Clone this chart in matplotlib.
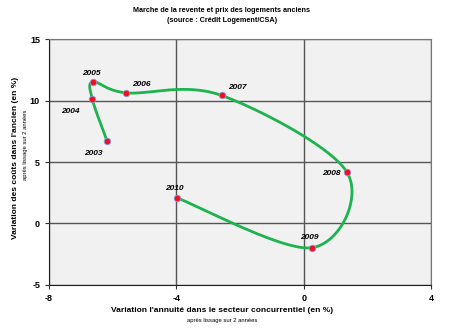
import numpy as np
import matplotlib
matplotlib.use('Agg')
import matplotlib.pyplot as plt

# Data
years = ['2003', '2004', '2005', '2006', '2007', '2008', '2009', '2010']
annuite = [-6.18, -6.64, -6.62, -5.58, -2.58, 1.36, 0.26, -3.97]
couts = [6.73, 10.1, 11.53, 10.63, 10.42, 4.16, -1.97, 2.07]

# label offsets (points) for each year
offsets = [(-10, -9), (-16, -9), (-1, 6), (11, 6), (11, 6), (-11, -1), (-2, 7), (-2, 7)]

xs_scale, ys_scale = 31.8, 12.3   # pixels per unit, used for Excel-like smoothing


def smooth(x, y, n=40):
    # Bezier smoothing like Excel (control points at P1 + (P2-P0)/6), done in pixel space
    p = np.column_stack([np.array(x) * xs_scale, np.array(y) * ys_scale])
    pts = []
    for i in range(len(p) - 1):
        p0 = p[i - 1] if i > 0 else p[i]
        p1, p2 = p[i], p[i + 1]
        p3 = p[i + 2] if i + 2 < len(p) else p[i + 1]
        c1 = p1 + (p2 - p0) / 6
        c2 = p2 - (p3 - p1) / 6
        t = np.linspace(0, 1, n)[:, None]
        seg = (1 - t) ** 3 * p1 + 3 * (1 - t) ** 2 * t * c1 + 3 * (1 - t) * t ** 2 * c2 + t ** 3 * p2
        pts.append(seg)
    pts = np.vstack(pts)
    return pts[:, 0] / xs_scale, pts[:, 1] / ys_scale


plt.rcParams['font.family'] = ['Liberation Sans Narrow', 'Liberation Sans', 'DejaVu Sans']
plt.rcParams['axes.unicode_minus'] = False

fig = plt.figure(figsize=(4.5, 3.29), dpi=100)
ax = fig.add_axes([0.109, 0.134, 0.849, 0.747])
ax.set_facecolor('#f1f1f1')

sx, sy = smooth(annuite, couts)
ax.plot(sx, sy, color='#1db34e', lw=2, zorder=3)
ax.scatter(annuite, couts, s=22, color='#ee1122', edgecolors='#8899dd', linewidths=0.6, zorder=4)

for yr, xv, yv, off in zip(years, annuite, couts, offsets):
    ax.annotate(yr, (xv, yv), xytext=off, textcoords='offset points', ha='center', va='center',
                fontsize=6, fontstyle='italic', fontweight='bold')

ax.set_xlim(-8, 4)
ax.set_ylim(-5, 15)
ax.set_xticks([-8, -4, 0, 4])
ax.set_yticks([-5, 0, 5, 10, 15])
ax.grid(True, color='#555555', lw=1)
ax.set_axisbelow(True)
ax.tick_params(labelsize=6.5, length=3, width=0.8, color='#333333')
for lab in ax.get_xticklabels() + ax.get_yticklabels():
    lab.set_fontweight('bold')
ax.spines['top'].set_color('#777777')
ax.spines['right'].set_color('#777777')
ax.spines['left'].set_color('#222222')
ax.spines['bottom'].set_color('#222222')

fig.text(0.493, 0.968, 'Marche de la revente et prix des logements anciens', ha='center', va='center',
         fontsize=5.2, fontweight='bold')
fig.text(0.493, 0.937, '(source : Crédit Logement/CSA)', ha='center', va='center',
         fontsize=5.2, fontweight='bold')

fig.text(0.493, 0.055, "Variation l'annuité dans le secteur concurrentiel (en %)", ha='center', va='center',
         fontsize=6, fontweight='bold')
fig.text(0.493, 0.025, 'après lissage sur 2 années', ha='center', va='center', fontsize=4.2)

fig.text(0.035, 0.52, "Variation des coûts dans l'ancien (en %)", rotation=90, ha='center', va='center',
         fontsize=6, fontweight='bold')
fig.text(0.056, 0.56, 'après lissage sur 2 années', rotation=90, ha='center', va='center', fontsize=4.2)

fig.savefig('out.png', dpi=100)
